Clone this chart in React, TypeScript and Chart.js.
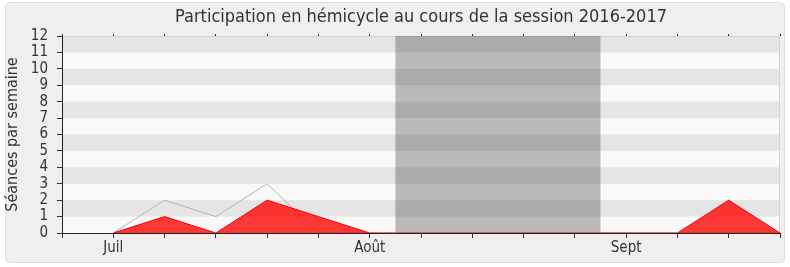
import React, { useEffect, useRef } from 'react';
import { Chart, registerables } from 'chart.js';

Chart.register(...registerables);

const CHART_TITLE = 'Participation en hémicycle au cours de la session 2016-2017';
const Y_TITLE = 'Séances par semaine';
const weekLabels = ['', 'Juil', '', '', '', '', 'Août', '', '', '', '', 'Sept', '', '', ''];
const presenceValues = [null, 0, 1, 0, 2, 1, 0, 0, 0, 0, 0, 0, 0, 2, 0];
const totalValues = [null, 0, 2, 1, 3, 0, 0, 0, 0, 0, 0, 0, 0, 0, 0];
const yMin = 0;
const yMax = 12;
const vacationStart = 6.5;
const vacationEnd = 10.5;

const FONT = "'DejaVu Sans Condensed', 'DejaVu Sans', sans-serif";
const TEXT = '#333333';

const backgroundPlugin = {
  id: 'bgBox',
  beforeDraw(chart: any) {
    const { ctx, width, height } = chart;
    ctx.save();
    ctx.fillStyle = '#ffffff';
    ctx.fillRect(0, 0, width, height);
    const x = 5.5, y = 2.5, w = width - 11, h = height - 7, r = 5;
    ctx.beginPath();
    ctx.moveTo(x + r, y);
    ctx.lineTo(x + w - r, y);
    ctx.quadraticCurveTo(x + w, y, x + w, y + r);
    ctx.lineTo(x + w, y + h - r);
    ctx.quadraticCurveTo(x + w, y + h, x + w - r, y + h);
    ctx.lineTo(x + r, y + h);
    ctx.quadraticCurveTo(x, y + h, x, y + h - r);
    ctx.lineTo(x, y + r);
    ctx.quadraticCurveTo(x, y, x + r, y);
    ctx.closePath();
    ctx.fillStyle = '#efefef';
    ctx.fill();
    ctx.strokeStyle = '#dedede';
    ctx.lineWidth = 1;
    ctx.stroke();

    const a = chart.chartArea;
    const ys = chart.scales.y;
    ctx.fillStyle = '#f9f9f9';
    ctx.fillRect(a.left, a.top, a.right - a.left, a.bottom - a.top);
    ctx.fillStyle = '#e5e5e5';
    for (let v = yMin + 1; v < yMax; v += 2) {
      const yTop = ys.getPixelForValue(v + 1);
      const yBot = ys.getPixelForValue(v);
      ctx.fillRect(a.left, yTop, a.right - a.left, yBot - yTop);
    }
    ctx.strokeStyle = '#d4d4d4';
    ctx.strokeRect(a.left + 0.5, a.top + 0.5, a.right - a.left - 1, a.bottom - a.top);
    ctx.restore();
  },
  beforeDatasetsDraw(chart: any) {
    const { ctx } = chart;
    const a = chart.chartArea;
    const xs = chart.scales.x;
    const x0 = xs.getPixelForValue(vacationStart);
    const x1 = xs.getPixelForValue(vacationEnd);
    ctx.save();
    ctx.fillStyle = 'rgba(0,0,0,0.25)';
    ctx.fillRect(x0, a.top, x1 - x0, a.bottom - a.top);
    ctx.restore();
  },
};

export default function App() {
  const ref = useRef<HTMLCanvasElement | null>(null);
  useEffect(() => {
    if (!ref.current) return;
    const chart = new Chart(ref.current, {
      type: 'line',
      data: {
        labels: weekLabels,
        datasets: [
          {
            label: 'Présences',
            data: presenceValues,
            borderColor: '#ff0000',
            backgroundColor: 'rgba(255,0,0,0.78)',
            borderWidth: 1,
            fill: 'origin',
            pointRadius: 0,
            tension: 0,
          },
          {
            label: 'Total',
            data: totalValues,
            borderColor: '#b4b4b4',
            borderWidth: 1,
            fill: false,
            pointRadius: 0,
            tension: 0,
          },
        ],
      },
      plugins: [backgroundPlugin],
      options: {
        animation: false,
        responsive: false,
        devicePixelRatio: 1,
        layout: { padding: { left: 0, right: 10, top: 0, bottom: 0 } },
        plugins: {
          legend: { display: false },
          tooltip: { enabled: false },
          title: {
            display: true,
            text: CHART_TITLE,
            fullSize: false,
            color: TEXT,
            font: { family: FONT, size: 18, weight: 'normal' },
            padding: { top: 7, bottom: 5.4 },
          },
        },
        scales: {
          x: {
            type: 'category',
            offset: false,
            grid: { drawOnChartArea: false, drawTicks: true, tickLength: 5, color: '#333333' },
            border: { display: true, color: '#222222' },
            ticks: { autoSkip: false, maxRotation: 0, color: TEXT, padding: 1, font: { family: FONT, size: 15 } },
            afterFit: (s: any) => { s.height = 34; },
          },
          x2: {
            type: 'category',
            position: 'top',
            labels: weekLabels,
            offset: false,
            grid: { drawOnChartArea: false, drawTicks: true, tickLength: 2, color: '#333333' },
            border: { display: false },
            ticks: { display: false },
            afterFit: (s: any) => { s.height = 2; },
          },
          y: {
            min: yMin,
            max: yMax,
            grid: { drawOnChartArea: false, drawTicks: true, tickLength: 5, color: '#333333' },
            border: { display: true, color: '#222222' },
            ticks: { stepSize: 1, autoSkip: false, color: TEXT, padding: 9, font: { family: FONT, size: 15 } },
            title: { display: true, text: Y_TITLE, color: TEXT, padding: { top: 3, bottom: 0 }, font: { family: FONT, size: 16 } },
            afterFit: (s: any) => { s.width = 62; },
          },
        },
      },
    } as any);
    return () => chart.destroy();
  }, []);
  return (
    <div style={{ position: 'fixed', left: 0, top: 0, width: 790, height: 267 }}>
      <canvas ref={ref} width={790} height={267} style={{ width: 790, height: 267, display: 'block' }} />
    </div>
  );
}
